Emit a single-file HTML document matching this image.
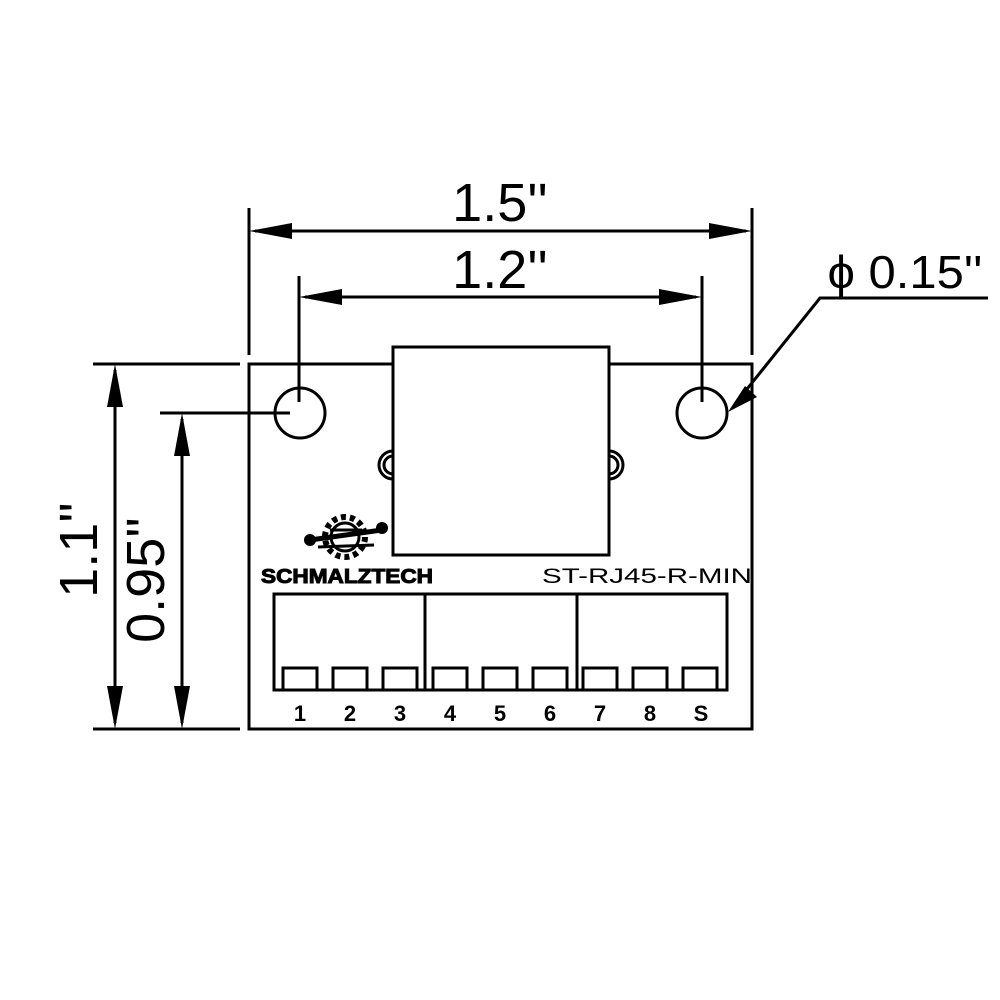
<!DOCTYPE html>
<html><head><meta charset="utf-8"><style>html,body{margin:0;padding:0;background:#fff}svg{display:block}</style></head>
<body>
<svg width="1000" height="1000" viewBox="0 0 1000 1000" xmlns="http://www.w3.org/2000/svg">
<g stroke="#000" stroke-width="3" fill="none">
<rect x="249" y="364" width="503" height="365"/>
<rect x="393" y="347" width="216" height="208" fill="#fff"/>
<path d="M393 451 A14 14 0 0 0 393 479 M393 456 A9 9 0 0 0 393 474"/>
<path d="M609 451 A14 14 0 0 1 609 479 M609 456 A9 9 0 0 1 609 474"/>
<circle cx="300" cy="413" r="25"/>
<circle cx="702" cy="413" r="25"/>
<line x1="249" y1="208" x2="249" y2="355"/>
<line x1="752" y1="208" x2="752" y2="355"/>
<line x1="299" y1="276" x2="299" y2="402"/>
<line x1="702" y1="276" x2="702" y2="402"/>
<line x1="93" y1="364" x2="240" y2="364"/>
<line x1="93" y1="729" x2="240" y2="729"/>
<line x1="160" y1="413" x2="290" y2="413"/>
<line x1="255" y1="231" x2="746" y2="231"/>
<line x1="305" y1="297" x2="696" y2="297"/>
<line x1="115" y1="370" x2="115" y2="723"/>
<line x1="182" y1="419" x2="182" y2="723"/>
<polyline points="735,404 820,298 988,298"/>
<rect x="274" y="594" width="453" height="96"/>
<line x1="425" y1="594" x2="425" y2="690"/>
<line x1="577" y1="594" x2="577" y2="690"/>
<rect x="283" y="668" width="34" height="22"/><rect x="333" y="668" width="34" height="22"/><rect x="383" y="668" width="34" height="22"/>
<rect x="433" y="668" width="34" height="22"/><rect x="483" y="668" width="34" height="22"/><rect x="533" y="668" width="34" height="22"/>
<rect x="583" y="668" width="34" height="22"/><rect x="633" y="668" width="34" height="22"/><rect x="683" y="668" width="34" height="22"/>
<circle cx="345" cy="537" r="20" stroke-width="6" stroke-dasharray="5 4"/>
<circle cx="345" cy="537" r="14" stroke-width="3"/>
<line x1="310" y1="540" x2="382" y2="530" stroke-width="5"/>
<line x1="318" y1="547" x2="374" y2="545" stroke-width="3"/>
<line x1="330" y1="530" x2="362" y2="530" stroke-width="3"/>
</g>
<g fill="#000">
<circle cx="310" cy="540" r="6"/><circle cx="382" cy="528" r="6"/>
<polygon points="249,231 292,223 292,239"/>
<polygon points="752,231 709,223 709,239"/>
<polygon points="299,297 342,289 342,305"/>
<polygon points="702,297 659,289 659,305"/>
<polygon points="115,364 107,407 123,407"/>
<polygon points="115,729 107,686 123,686"/>
<polygon points="182,413 174,456 190,456"/>
<polygon points="182,729 174,686 190,686"/>
<polygon points="728,412 745,386 757,397"/>
</g>
<g font-family="Liberation Sans, sans-serif" fill="#000">
<text x="500" y="221" font-size="54" text-anchor="middle">1.5''</text>
<text x="500" y="288" font-size="54" text-anchor="middle">1.2''</text>
<text x="905" y="288" font-size="46" text-anchor="middle" textLength="155" lengthAdjust="spacingAndGlyphs">ϕ 0.15''</text>
<text transform="translate(97,550) rotate(-90)" font-size="54" text-anchor="middle">1.1''</text>
<text transform="translate(164,580) rotate(-90)" font-size="54" text-anchor="middle">0.95''</text>
<text x="347" y="583" font-size="20" font-weight="bold" text-anchor="middle" textLength="172" lengthAdjust="spacingAndGlyphs" stroke="#000" stroke-width="1">SCHMALZTECH</text>
<text x="647" y="583" font-size="21" text-anchor="middle" textLength="210" lengthAdjust="spacingAndGlyphs">ST-RJ45-R-MIN</text>
<g font-size="22" font-weight="bold" text-anchor="middle">
<text x="300" y="721">1</text><text x="350" y="721">2</text><text x="400" y="721">3</text>
<text x="450" y="721">4</text><text x="500" y="721">5</text><text x="550" y="721">6</text>
<text x="600" y="721">7</text><text x="650" y="721">8</text><text x="701" y="721">S</text>
</g>
</g>
</svg>
</body></html>
